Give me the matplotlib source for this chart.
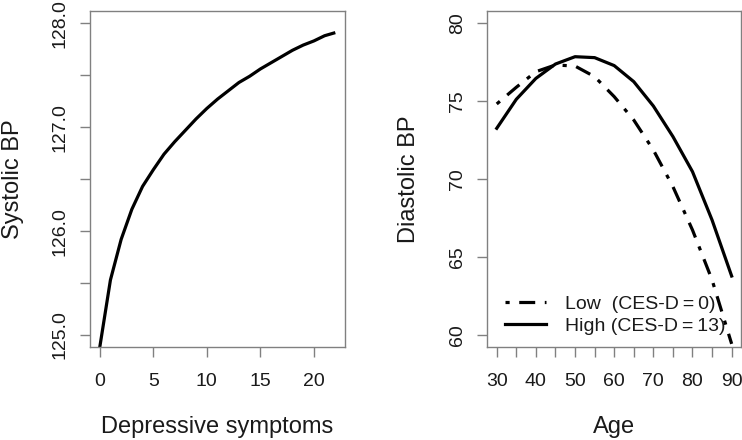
import matplotlib
matplotlib.use("Agg")
import matplotlib.pyplot as plt

plt.rcParams["font.family"] = ["Liberation Sans", "DejaVu Sans"]

# left panel: systolic BP by depressive symptoms
symptoms = list(range(0, 23))
systolic = [124.88, 125.53, 125.92, 126.21, 126.43, 126.59, 126.74, 126.86,
            126.97, 127.08, 127.18, 127.27, 127.35, 127.43, 127.49, 127.56,
            127.62, 127.68, 127.74, 127.79, 127.83, 127.88, 127.91]

# right panel: diastolic BP by age, low vs high CES-D
age = [30, 35, 40, 45, 50, 55, 60, 65, 70, 75, 80, 85, 90]
dbp_low = [74.83, 75.9, 76.9, 77.33, 77.26, 76.58, 75.3, 73.8, 71.88,
           69.53, 66.75, 63.55, 59.45]
dbp_high = [73.27, 75.13, 76.47, 77.39, 77.86, 77.8, 77.29, 76.26, 74.7,
            72.74, 70.49, 67.39, 63.8]
legend_labels = ["Low  (CES-D\u2009=\u20090)", "High (CES-D\u2009=\u200913)"]

SPINE = "#808080"
TXT = "#1a1a1a"
LW = 2.3
DOTDASH = (1.3, 3, 5, 3)

fig = plt.figure(figsize=(7.42, 4.40), dpi=100)
ax1 = fig.add_axes([0.1217, 0.2114, 0.3429, 0.7636])
ax2 = fig.add_axes([0.6568, 0.2114, 0.3419, 0.7636])


def style(ax):
    for s in ax.spines.values():
        s.set_color(SPINE)
        s.set_linewidth(1.0)
    ax.tick_params(axis="both", colors=SPINE, labelcolor=TXT, length=7.5,
                   width=1.0, labelsize=14)
    ax.tick_params(axis="x", pad=11)
    ax.tick_params(axis="y", pad=8)
    for lab in ax.get_yticklabels():
        lab.set_rotation(90)
        lab.set_va("center")


ax1.plot(symptoms, systolic, color="black", lw=LW, solid_capstyle="butt")
ax1.set_xlim(-0.88, 22.88)
ax1.set_ylim(124.885, 128.118)
ax1.set_xticks([0, 5, 10, 15, 20])
ax1.set_yticks([125.0, 125.5, 126.0, 126.5, 127.0, 127.5, 128.0])
ax1.set_yticklabels(["125.0", "", "126.0", "", "127.0", "", "128.0"])
style(ax1)
ax1.set_xlabel("Depressive symptoms", fontsize=17, color=TXT, va="center")
ax1.xaxis.set_label_coords(0.5, -80 / 336)
ax1.set_ylabel("Systolic BP", fontsize=17, color=TXT, va="center")
ax1.yaxis.set_label_coords(-77 / 254.4, 0.5)

ax2.plot(age, dbp_low, color="black", lw=LW, dashes=DOTDASH,
         label=legend_labels[0])
ax2.plot(age, dbp_high, color="black", lw=LW, label=legend_labels[1])
ax2.set_xlim(27.6, 92.4)
ax2.set_ylim(59.25, 80.79)
ax2.set_xticks(list(range(30, 95, 5)))
ax2.set_xticklabels([str(a) if a % 10 == 0 else "" for a in range(30, 95, 5)])
ax2.set_yticks([60, 65, 70, 75, 80])
style(ax2)
ax2.set_xlabel("Age", fontsize=17, color=TXT, va="center")
ax2.xaxis.set_label_coords(0.5, -80 / 336)
ax2.set_ylabel("Diastolic BP", fontsize=17, color=TXT, va="center")
ax2.yaxis.set_label_coords(-78 / 253.7, 0.5)

leg = ax2.legend(loc="lower left", bbox_to_anchor=(0.0, -0.015), frameon=False,
                 fontsize=14, handlelength=2.1, handletextpad=1.0,
                 labelspacing=0.2)
for t in leg.get_texts():
    t.set_color(TXT)

fig.savefig("out.png", dpi=100)
